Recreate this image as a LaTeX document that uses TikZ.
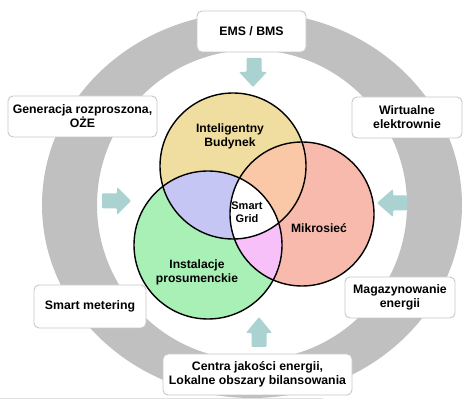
\documentclass[tikz,border=0pt]{standalone}
\usepackage{fontspec}
\setmainfont{Liberation Sans}
\definecolor{ringc}{RGB}{192,192,192}
\definecolor{arrowc}{RGB}{170,210,208}
\definecolor{boxline}{RGB}{200,200,200}
\definecolor{yel}{RGB}{239,222,160}
\definecolor{sal}{RGB}{248,186,172}
\definecolor{grn}{RGB}{168,240,182}
\definecolor{lav}{RGB}{198,198,244}
\definecolor{peach}{RGB}{250,200,166}
\definecolor{pnk}{RGB}{248,192,248}
\begin{document}
\begin{tikzpicture}[x=1pt,y=-1pt,
  box/.style={draw=boxline, line width=0.9pt, fill=white, rounded corners=5pt,
    align=center, font=\fontsize{12.3}{14}\selectfont\bfseries, inner sep=0pt},
  lbl/.style={align=center, font=\fontsize{12.1}{14}\selectfont\bfseries, inner sep=0pt},
  sglbl/.style={align=center, font=\fontsize{11}{13}\selectfont\bfseries, inner sep=0pt},
  barrow/.style={fill=arrowc, rounded corners=1pt},
  venn/.style={draw=black, line width=1.4pt}]
\useasboundingbox (0,0) rectangle (472,403);
\fill[white] (0,0) rectangle (472,403);
% ring
\fill[ringc, even odd rule] (252,205) ellipse [x radius=210pt, y radius=193pt]
  (252,205) circle [radius=155pt];
\draw[black!12, line width=0.8pt] (0,398.5) -- (323,398.5);
% arrows
\fill[barrow] (246.5,58) -- (261.5,58) -- (261.5,72) -- (267,72) -- (253,87) -- (239,72) -- (246.5,72) -- cycle;
\fill[barrow] (102,193.5) -- (117,193.5) -- (117,187) -- (131,201) -- (117,215) -- (117,208.5) -- (102,208.5) -- cycle;
\fill[barrow] (407,195.5) -- (393,195.5) -- (393,189) -- (377,203) -- (393,217) -- (393,210.5) -- (407,210.5) -- cycle;
\fill[barrow] (251.5,347) -- (251.5,333) -- (246,333) -- (259,317) -- (272,333) -- (266.5,333) -- (266.5,347) -- cycle;
% venn
\coordinate (cy) at (233,166);
\coordinate (cr) at (302,214);
\coordinate (cg) at (208,245);
\fill[yel] (cy) circle [radius=73pt];
\fill[sal] (cr) circle [radius=72pt];
\fill[grn] (cg) circle [radius=74pt];
\begin{scope}
  \clip (cy) circle [radius=73pt];
  \fill[peach] (cr) circle [radius=72pt];
  \fill[lav] (cg) circle [radius=74pt];
\end{scope}
\begin{scope}
  \clip (cr) circle [radius=72pt];
  \fill[pnk] (cg) circle [radius=74pt];
  \clip (cy) circle [radius=73pt];
  \fill[white] (cg) circle [radius=74pt];
\end{scope}
\draw[venn] (cy) circle [radius=73pt];
\draw[venn] (cr) circle [radius=72pt];
\draw[venn] (cg) circle [radius=74pt];
\node[lbl] (ib) at (230,136) {Inteligentny\\Budynek};
\node[lbl] (mk) at (319,228) {Mikrosieć};
\node[lbl] (ip) at (197,272.5) {Instalacje\\prosumenckie};
\node[sglbl] (sg) at (247,212.5) {Smart\\Grid};
% boxes
\node[box, minimum width=109pt, minimum height=41pt] (ems) at (251.5,31.5) {EMS / BMS};
\node[box, minimum width=149pt, minimum height=41pt] (gen) at (82.5,116.5) {Generacja rozproszona,\\OŻE};
\node[box, minimum width=110pt, minimum height=41pt] (wir) at (407,117.5) {Wirtualne\\elektrownie};
\node[box, minimum width=112pt, minimum height=43pt] (sm) at (90,306.5) {Smart metering};
\node[box, minimum width=110pt, minimum height=41pt] (mag) at (400,297.5) {Magazynowanie\\energii};
\node[box, minimum width=189pt, minimum height=41pt] (cen) at (257.5,374.5) {Centra jakości energii,\\Lokalne obszary bilansowania};
\end{tikzpicture}
\end{document}
